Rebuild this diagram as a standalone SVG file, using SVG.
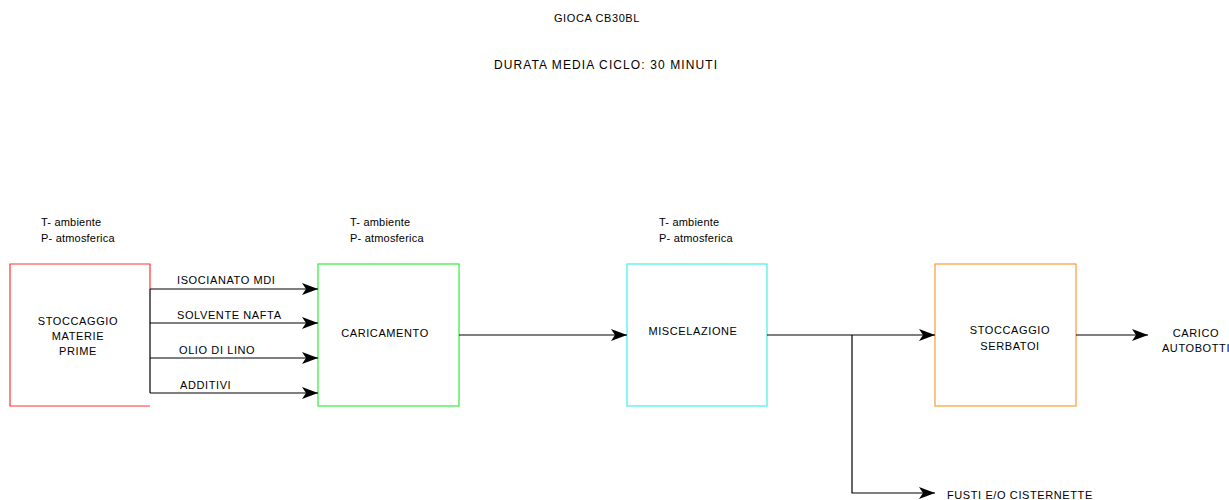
<svg xmlns="http://www.w3.org/2000/svg" width="1229" height="500" viewBox="0 0 1229 500">
<style>
text{font-family:"Liberation Sans",Arial,sans-serif;font-size:11px;fill:#000;letter-spacing:0.6px}
.t{font-size:11px;letter-spacing:0.2px}
.c{text-anchor:middle}
.h{font-size:12px;letter-spacing:1.1px}
.box{fill:#fff;stroke-width:1.2}
.ln{fill:none;stroke:#000;stroke-width:1.2}
</style>
<defs>
<marker id="ah" markerUnits="userSpaceOnUse" markerWidth="18" markerHeight="14" refX="16" refY="6" orient="auto">
<path d="M0,0 L16,6 L0,12 L4,6 Z" fill="#000"/>
</marker>
</defs>
<text class="c" x="597" y="22">GIOCA CB30BL</text>
<text class="c h" x="606" y="69">DURATA MEDIA CICLO: 30 MINUTI</text>

<g id="n1">
<text class="t" x="41" y="226">T- ambiente</text>
<text class="t" x="41" y="242">P- atmosferica</text>
<path d="M150,289 L150,264 L10,264 L10,406 L150,406" fill="#fff" stroke="#ff3333" stroke-width="1.2"/>
<text class="c" x="78" y="325">STOCCAGGIO</text>
<text class="c" x="78" y="340">MATERIE</text>
<text class="c" x="78" y="355">PRIME</text>
</g>
<g id="n2">
<text class="t" x="350" y="226">T- ambiente</text>
<text class="t" x="350" y="242">P- atmosferica</text>
<rect class="box" x="318" y="264" width="141" height="142" stroke="#33ee33"/>
<text class="c" x="385" y="337">CARICAMENTO</text>
</g>
<g id="n3">
<text class="t" x="659" y="226">T- ambiente</text>
<text class="t" x="659" y="242">P- atmosferica</text>
<rect class="box" x="627" y="264" width="140" height="142" stroke="#44eeee"/>
<text class="c" x="693" y="335">MISCELAZIONE</text>
</g>
<g id="n4">
<rect class="box" x="935" y="264" width="141" height="142" stroke="#ff9933"/>
<text class="c" x="1010" y="334">STOCCAGGIO</text>
<text class="c" x="1010" y="350">SERBATOI</text>
</g>
<g id="n5">
<text class="c" x="1196" y="337">CARICO</text>
<text class="c" x="1196" y="352">AUTOBOTTI</text>
</g>
<g id="n6">
<text x="947" y="499">FUSTI E/O CISTERNETTE</text>
</g>

<g id="connectors">
<path class="ln" d="M150,289 L150,393"/>
<path class="ln" d="M150,289 L318,289" marker-end="url(#ah)"/>
<path class="ln" d="M150,323 L318,323" marker-end="url(#ah)"/>
<path class="ln" d="M150,358 L318,358" marker-end="url(#ah)"/>
<path class="ln" d="M150,393 L318,393" marker-end="url(#ah)"/>
<path class="ln" d="M459,335 L627,335" marker-end="url(#ah)"/>
<path class="ln" d="M767,335 L935,335" marker-end="url(#ah)"/>
<path class="ln" d="M852,335 L852,493 L935,493" marker-end="url(#ah)"/>
<path class="ln" d="M1076,335 L1148,335" marker-end="url(#ah)"/>
<text x="177" y="284">ISOCIANATO MDI</text>
<text x="177" y="319">SOLVENTE NAFTA</text>
<text x="179" y="354">OLIO DI LINO</text>
<text x="180" y="389">ADDITIVI</text>
</g>
</svg>
